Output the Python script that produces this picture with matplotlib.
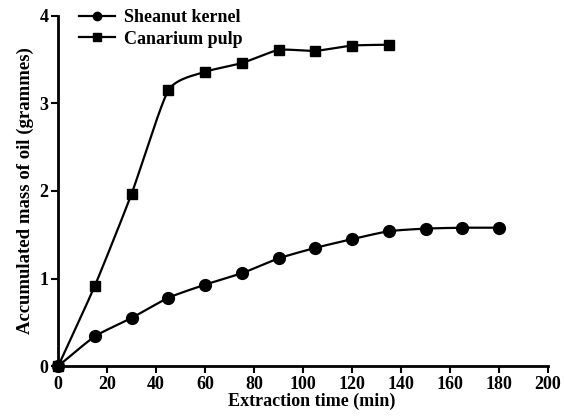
import numpy as np
import matplotlib
matplotlib.use("Agg")
import matplotlib.pyplot as plt

time_sheanut = [0, 15, 30, 45, 60, 75, 90, 105, 120, 135, 150, 165, 180]
oil_sheanut = [0, 0.34, 0.55, 0.78, 0.93, 1.06, 1.23, 1.35, 1.45, 1.54, 1.57, 1.58, 1.58]
time_canarium = [0, 15, 30, 45, 60, 75, 90, 105, 120, 135]
oil_canarium = [0, 0.92, 1.97, 3.15, 3.36, 3.46, 3.61, 3.60, 3.66, 3.67]
x_ticks = [0, 20, 40, 60, 80, 100, 120, 140, 160, 180, 200]
y_ticks = [0, 1, 2, 3, 4]


def cardinal(x, y, tension=0.5, n=30):
    """Cardinal spline through the points (for drawing the connecting curve)."""
    x = np.asarray(x, float)
    y = np.asarray(y, float)
    px = np.concatenate([[2 * x[0] - x[1]], x, [2 * x[-1] - x[-2]]])
    py = np.concatenate([[2 * y[0] - y[1]], y, [2 * y[-1] - y[-2]]])
    t = np.linspace(0, 1, n, endpoint=False)
    h00 = 2 * t**3 - 3 * t**2 + 1
    h10 = t**3 - 2 * t**2 + t
    h01 = -2 * t**3 + 3 * t**2
    h11 = t**3 - t**2
    xs, ys = [], []
    for i in range(1, len(px) - 2):
        for p, out in ((px, xs), (py, ys)):
            m1 = tension * (p[i + 1] - p[i - 1])
            m2 = tension * (p[i + 2] - p[i])
            out.append(h00 * p[i] + h10 * m1 + h01 * p[i + 1] + h11 * m2)
    xs.append([x[-1]])
    ys.append([y[-1]])
    return np.concatenate(xs), np.concatenate(ys)


plt.rcParams['font.family'] = ['Liberation Serif', 'DejaVu Serif']
plt.rcParams['font.weight'] = 'bold'

fig = plt.figure(figsize=(5.65, 4.16), dpi=100)
ax = fig.add_axes([0.103, 0.120, 0.867, 0.842])

sx, sy = cardinal(time_sheanut, oil_sheanut, tension=0.3)
cx, cy = cardinal(time_canarium, oil_canarium, tension=0.3)

ax.plot(sx, sy, color='black', lw=1.6, zorder=2, clip_on=False)
ax.plot(time_sheanut, oil_sheanut, 'o', color='black', ms=8.5, zorder=3, clip_on=False)
ax.plot(cx, cy, color='black', lw=1.6, zorder=2, clip_on=False)
ax.plot(time_canarium, oil_canarium, 's', color='black', ms=7.5, zorder=3, clip_on=False)

# legend proxies
h1, = ax.plot([], [], '-o', color='black', lw=1.6, ms=6)
h2, = ax.plot([], [], '-s', color='black', lw=1.6, ms=6)
leg = ax.legend([h1, h2], ['Sheanut kernel', 'Canarium pulp'], loc='upper left',
                bbox_to_anchor=(0.01, 1.065), frameon=False,
                handlelength=2.0, handletextpad=0.45, labelspacing=0.25,
                prop={'family': ['Liberation Serif'], 'weight': 'bold', 'size': 13})

ax.set_xlim(0, 200)
ax.set_ylim(0, 4)
ax.set_xticks(x_ticks)
ax.set_yticks(y_ticks)
for s in ['top', 'right']:
    ax.spines[s].set_visible(False)
for s in ['left', 'bottom']:
    ax.spines[s].set_linewidth(2)
ax.tick_params(width=1.5, length=5, labelsize=13, pad=2)
for lab in ax.get_xticklabels() + ax.get_yticklabels():
    lab.set_fontweight('bold')

ax.set_xlabel('Extraction time (min)', fontsize=13, fontweight='bold', labelpad=0)
ax.xaxis.set_label_coords(0.518, -0.075)
ax.set_ylabel('Accumulated mass of oil (grammes)', fontsize=13.5, fontweight='bold', labelpad=4)

fig.savefig('out.png', dpi=100)
